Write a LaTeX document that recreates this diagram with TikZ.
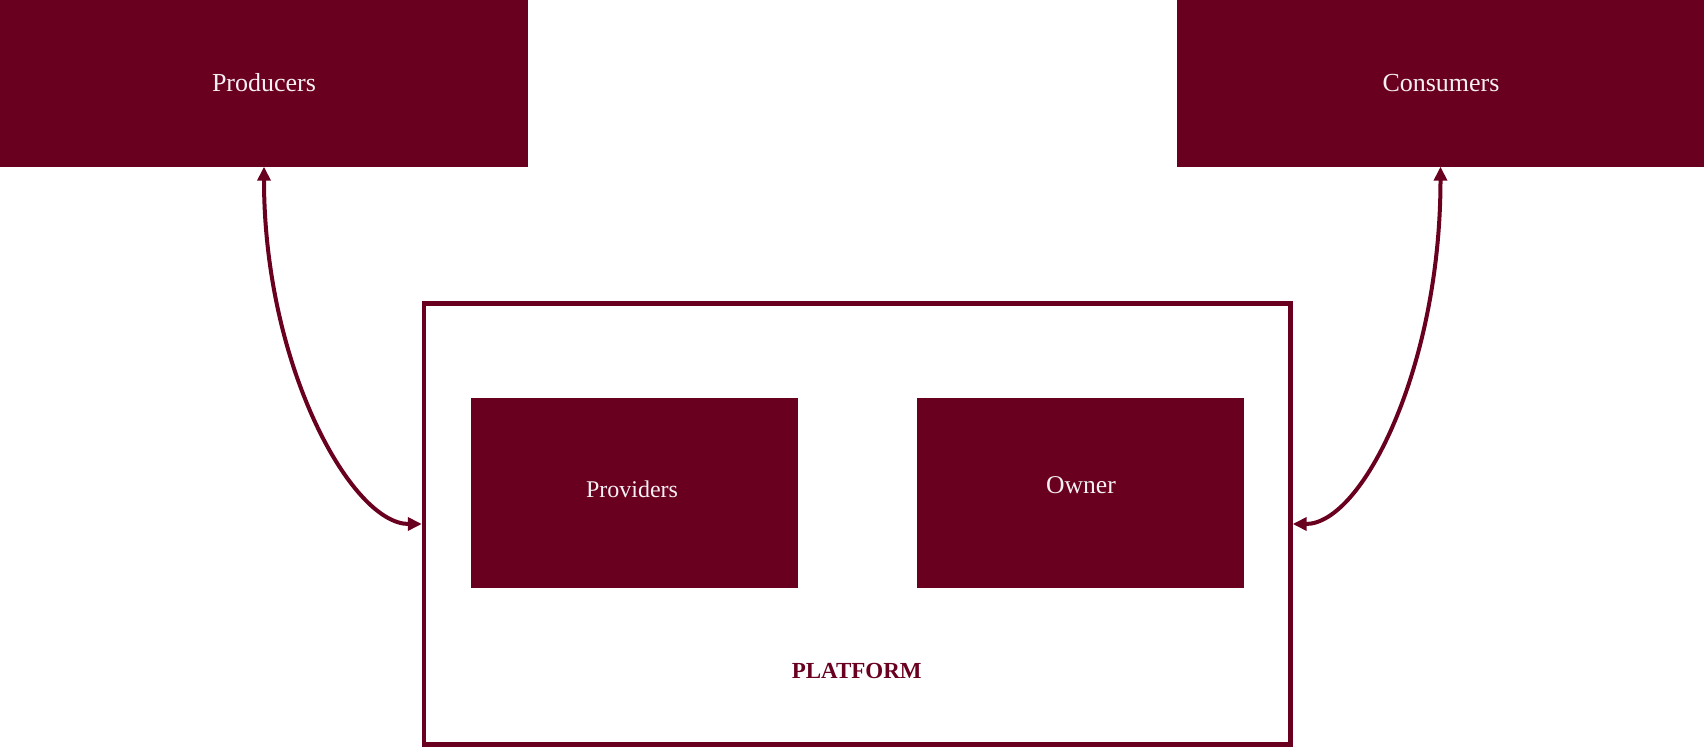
\documentclass[tikz,border=0pt]{standalone}
\usepackage{fontspec}
\setmainfont{Liberation Serif}
\usetikzlibrary{arrows.meta}
\definecolor{maroon}{RGB}{106,0,32}
\definecolor{paletext}{RGB}{245,240,242}
\begin{document}
\begin{tikzpicture}[x=0.5pt,y=-0.5pt,
  fillbox/.style={fill=maroon,draw=none,inner sep=0pt,outer sep=0pt},
  wtxt/.style={text=paletext,inner sep=0pt,anchor=base},
  conn/.style={draw=maroon,line width=2pt,
    {Triangle[length=7pt,width=6.5pt]}-{Triangle[length=7pt,width=6.5pt]}}]
\useasboundingbox (0,0) rectangle (1704,747);
% top boxes
\node[fillbox,minimum width=264pt,minimum height=83.35pt] (prod) at (264,83.35) {};
\node[fillbox,minimum width=263.5pt,minimum height=83.35pt] (cons) at (1440.5,83.35) {};
% platform frame
\node[draw=maroon,line width=2.2pt,fill=none,inner sep=0pt,
      minimum width=433.25pt,minimum height=220.5pt] (plat) at (857.25,524) {};
% inner boxes
\node[fillbox,minimum width=163.5pt,minimum height=95pt] (prov) at (634.5,493) {};
\node[fillbox,minimum width=163.5pt,minimum height=95pt] (own) at (1080.5,493) {};
% texts
\node[wtxt,font=\fontsize{13}{15}\selectfont] (prodtxt) at (264,92) {Producers};
\node[wtxt,font=\fontsize{13}{15}\selectfont] (constxt) at (1441,92) {Consumers};
\node[wtxt,font=\fontsize{12}{14}\selectfont] (provtxt) at (632,498) {Providers};
\node[wtxt,font=\fontsize{12.8}{15}\selectfont] (owntxt) at (1081,494) {Owner};
\node[text=maroon,inner sep=0pt,anchor=base,font=\fontsize{11.5}{14}\selectfont\bfseries] (plattxt) at (856.7,679) {PLATFORM};
% connectors
\draw[conn] (prod.south) .. controls +(0,200) and +(-70,0) .. (plat.west);
\draw[conn] (cons.south) .. controls +(0,200) and +(70,0) .. (plat.east);
\end{tikzpicture}
\end{document}
